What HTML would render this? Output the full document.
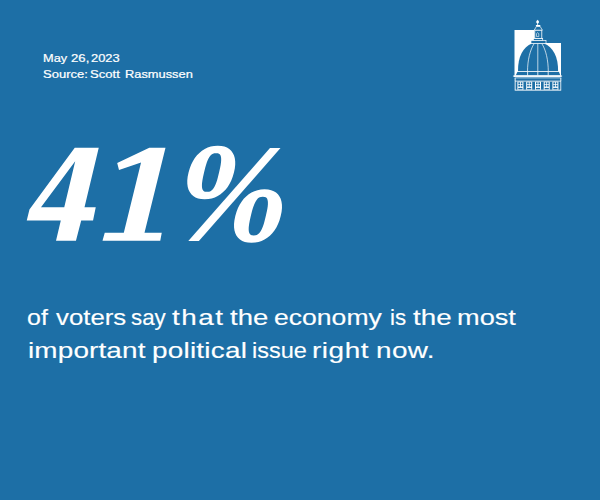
<!DOCTYPE html>
<html><head><meta charset="utf-8">
<style>
html,body{margin:0;padding:0;}
body{width:600px;height:500px;background:#1d6fa6;overflow:hidden;position:relative;font-family:"Liberation Sans",sans-serif;color:#fff;}
.l{position:absolute;white-space:nowrap;transform-origin:0 0;line-height:1;}
.m{font-size:11.3px;-webkit-text-stroke:0.22px #fff;}
.b{font-size:21.8px;-webkit-text-stroke:0.15px #fff;}
svg{position:absolute;left:0;top:0;}
</style></head><body>
<svg width="600" height="500" viewBox="0 0 600 500">
<path fill="#fff" fill-rule="evenodd" d="M74.75,147.8 L98.75,147.8 L84.5,207.3 L95.75,207.3 L93.05,220.5 L81.2,220.5 L75.95,240.75 L56,240.75 L60.8,220.5 L26.75,220.5 L29.45,209.55 Z M75.2,161.3 L64.25,207.3 L41,207.3 Z"/>
<path fill="#fff" d="M149.3,147.8 L165.5,147.8 L144.5,232.8 L161.75,232.8 L160.25,240.75 L102.5,240.75 L104.75,232.8 L123.8,232.8 L141.05,162.5 L119,170 L117.2,162.95 Z"/>
<path fill="#fff" d="M270,148 L280.5,148 L198.9,241 L188.3,241 Z"/>
<path fill="#fff" fill-rule="evenodd" d="M233.95,172.50 L232.71,176.87 L231.29,180.53 L229.62,183.87 L227.69,186.92 L225.52,189.68 L223.12,192.12 L220.53,194.23 L217.75,196.00 L214.82,197.39 L211.73,198.39 L208.47,199.00 L204.71,199.20 L201.04,199.00 L198.08,198.39 L195.49,197.39 L193.23,196.00 L191.32,194.23 L189.76,192.12 L188.56,189.68 L187.74,186.92 L187.31,183.87 L187.27,180.53 L187.65,176.87 L188.55,172.50 L189.79,168.13 L191.21,164.47 L192.88,161.13 L194.81,158.08 L196.98,155.32 L199.38,152.88 L201.97,150.77 L204.75,149.00 L207.68,147.61 L210.77,146.61 L214.03,146.00 L217.79,145.80 L221.46,146.00 L224.42,146.61 L227.01,147.61 L229.27,149.00 L231.18,150.77 L232.74,152.88 L233.94,155.32 L234.76,158.08 L235.19,161.13 L235.23,164.47 L234.85,168.13 Z M219.05,172.55 L217.89,177.29 L217.09,180.15 L216.31,182.50 L215.53,184.52 L214.72,186.26 L213.88,187.75 L213.01,189.00 L212.09,190.03 L211.12,190.82 L210.07,191.39 L208.88,191.74 L207.01,191.85 L205.20,191.74 L204.17,191.39 L203.39,190.82 L202.79,190.03 L202.36,189.00 L202.07,187.75 L201.94,186.26 L201.95,184.52 L202.11,182.50 L202.44,180.15 L202.98,177.29 L204.05,172.55 L205.21,167.81 L206.01,164.95 L206.79,162.60 L207.57,160.58 L208.38,158.84 L209.22,157.35 L210.09,156.10 L211.01,155.07 L211.98,154.28 L213.03,153.71 L214.22,153.36 L216.09,153.25 L217.90,153.36 L218.93,153.71 L219.71,154.28 L220.31,155.07 L220.74,156.10 L221.03,157.35 L221.16,158.84 L221.15,160.58 L220.99,162.60 L220.66,164.95 L220.12,167.81 Z"/>
<path fill="#fff" fill-rule="evenodd" d="M280.70,216.05 L279.46,220.42 L278.04,224.08 L276.37,227.42 L274.44,230.47 L272.27,233.23 L269.87,235.67 L267.28,237.78 L264.50,239.55 L261.57,240.94 L258.48,241.94 L255.22,242.55 L251.46,242.75 L247.79,242.55 L244.83,241.94 L242.24,240.94 L239.98,239.55 L238.07,237.78 L236.51,235.67 L235.31,233.23 L234.49,230.47 L234.06,227.42 L234.02,224.08 L234.40,220.42 L235.30,216.05 L236.54,211.68 L237.96,208.02 L239.63,204.68 L241.56,201.63 L243.73,198.87 L246.13,196.43 L248.72,194.32 L251.50,192.55 L254.43,191.16 L257.52,190.16 L260.78,189.55 L264.54,189.35 L268.21,189.55 L271.17,190.16 L273.76,191.16 L276.02,192.55 L277.93,194.32 L279.49,196.43 L280.69,198.87 L281.51,201.63 L281.94,204.68 L281.98,208.02 L281.60,211.68 Z M265.80,216.10 L264.64,220.84 L263.84,223.70 L263.06,226.05 L262.28,228.07 L261.47,229.81 L260.63,231.30 L259.76,232.55 L258.84,233.58 L257.87,234.37 L256.82,234.94 L255.63,235.29 L253.76,235.40 L251.95,235.29 L250.92,234.94 L250.14,234.37 L249.54,233.58 L249.11,232.55 L248.82,231.30 L248.69,229.81 L248.70,228.07 L248.86,226.05 L249.19,223.70 L249.73,220.84 L250.80,216.10 L251.96,211.36 L252.76,208.50 L253.54,206.15 L254.32,204.13 L255.13,202.39 L255.97,200.90 L256.84,199.65 L257.76,198.62 L258.73,197.83 L259.78,197.26 L260.97,196.91 L262.84,196.80 L264.65,196.91 L265.68,197.26 L266.46,197.83 L267.06,198.62 L267.49,199.65 L267.78,200.90 L267.91,202.39 L267.90,204.13 L267.74,206.15 L267.41,208.50 L266.87,211.36 Z"/>

<g>
<!-- white L block -->
<path d="M514.5,30.1 H534.6 V43 H561 V75.8 H514.5 Z" fill="#fff"/>
<!-- dome -->
<path d="M518,71.5 C517.8,56.5 523,46.8 532,43.4 H544 C553,46.8 558.3,56.5 558.1,71.5 Z" fill="#1d6fa6"/>
<!-- ribs -->
<path d="M534.3,43.4 C530,50 527.6,60 527.5,71.5 M541.7,43.4 C546,50 548.2,60 548.3,71.5 M537.8,43.4 V71.5" stroke="#fff" stroke-width="0.7" fill="none"/>
<!-- band under dome -->
<path d="M517.6,71.5 H558.8 L560.3,75.6 H515.7 Z" fill="#1d6fa6"/>
<path d="M517,71.5 H559.5" stroke="#fff" stroke-width="0.8"/>
<path d="M527.6,71.5 V75.5 M537.8,71.5 V75.5 M548.2,71.5 V75.5" stroke="#fff" stroke-width="0.8"/>
<!-- cornice -->
<path d="M512.7,76.1 L514.2,75.3 H561 L562.4,76.1 L561,76.9 H514.2 Z" fill="#fff"/>
<rect x="514.7" y="76.9" width="46.6" height="1.7" fill="#78abce"/>
<path d="M515.15,78 V81 M560.8,78 V81" stroke="#fff" stroke-width="0.9"/>
<!-- window row -->
<rect x="514.7" y="80.7" width="46.5" height="9.9" fill="#fff"/>
<rect x="515.6" y="81.5" width="44.8" height="8.2" fill="#1d6fa6"/>
<rect x="517.4" y="81.6" width="6" height="8.2" fill="#fff"/><rect x="518.4" y="82.3" width="1.6" height="1.8" fill="#1d6fa6"/><rect x="518.4" y="84.8" width="1.6" height="1.8" fill="#1d6fa6"/><rect x="520.8" y="82.3" width="1.6" height="1.8" fill="#1d6fa6"/><rect x="520.8" y="84.8" width="1.6" height="1.8" fill="#1d6fa6"/><rect x="518.3" y="87.9" width="4.2" height="1.4" fill="#1d6fa6"/><rect x="526.2" y="81.6" width="6" height="8.2" fill="#fff"/><rect x="527.2" y="82.3" width="1.6" height="1.8" fill="#1d6fa6"/><rect x="527.2" y="84.8" width="1.6" height="1.8" fill="#1d6fa6"/><rect x="529.6" y="82.3" width="1.6" height="1.8" fill="#1d6fa6"/><rect x="529.6" y="84.8" width="1.6" height="1.8" fill="#1d6fa6"/><rect x="527.1" y="87.9" width="4.2" height="1.4" fill="#1d6fa6"/><rect x="535.0" y="81.6" width="6" height="8.2" fill="#fff"/><rect x="536.0" y="82.3" width="1.6" height="1.8" fill="#1d6fa6"/><rect x="536.0" y="84.8" width="1.6" height="1.8" fill="#1d6fa6"/><rect x="538.4" y="82.3" width="1.6" height="1.8" fill="#1d6fa6"/><rect x="538.4" y="84.8" width="1.6" height="1.8" fill="#1d6fa6"/><rect x="535.9" y="87.9" width="4.2" height="1.4" fill="#1d6fa6"/><rect x="543.7" y="81.6" width="6" height="8.2" fill="#fff"/><rect x="544.7" y="82.3" width="1.6" height="1.8" fill="#1d6fa6"/><rect x="544.7" y="84.8" width="1.6" height="1.8" fill="#1d6fa6"/><rect x="547.1" y="82.3" width="1.6" height="1.8" fill="#1d6fa6"/><rect x="547.1" y="84.8" width="1.6" height="1.8" fill="#1d6fa6"/><rect x="544.6" y="87.9" width="4.2" height="1.4" fill="#1d6fa6"/><rect x="552.4" y="81.6" width="6" height="8.2" fill="#fff"/><rect x="553.4" y="82.3" width="1.6" height="1.8" fill="#1d6fa6"/><rect x="553.4" y="84.8" width="1.6" height="1.8" fill="#1d6fa6"/><rect x="555.8" y="82.3" width="1.6" height="1.8" fill="#1d6fa6"/><rect x="555.8" y="84.8" width="1.6" height="1.8" fill="#1d6fa6"/><rect x="553.3" y="87.9" width="4.2" height="1.4" fill="#1d6fa6"/>
<!-- lantern -->
<rect x="531" y="40.5" width="15" height="2.9" fill="#1d6fa6" stroke="#fff" stroke-width="0.7"/>
<rect x="533.4" y="38.4" width="9.3" height="2.1" fill="#1d6fa6" stroke="#fff" stroke-width="0.7"/>
<rect x="534.8" y="30.2" width="7" height="8.2" fill="#1d6fa6" stroke="#fff" stroke-width="0.8"/>
<path d="M536.5,36.6 V33.6 Q537.6,31.8 538.8,33.6 V36.6 Z" fill="none" stroke="#fff" stroke-width="0.6"/>
<path d="M534.2,30.2 L536.4,26.5 H540.2 L542.4,30.2 Z" fill="#1d6fa6" stroke="#fff" stroke-width="0.7"/>
<rect x="535.9" y="25" width="4.4" height="1.4" fill="#fff"/>
<path d="M537.6,25 V19.9" stroke="#fff" stroke-width="0.8"/>
<circle cx="537.6" cy="22" r="1.4" fill="#fff"/>
</g>

</svg>
<div class="l b" style="left:27.44px;top:307.35px;transform:scaleX(1.1462);letter-spacing:0.00px">of</div>
<div class="l b" style="left:55.75px;top:307.35px;transform:scaleX(1.1836);letter-spacing:0.00px">voters</div>
<div class="l b" style="left:131.32px;top:307.35px;transform:scaleX(1.0256);letter-spacing:0.00px">say</div>
<div class="l b" style="left:171.66px;top:307.35px;transform:scaleX(1.2800);letter-spacing:1.18px">that</div>
<div class="l b" style="left:230.36px;top:307.35px;transform:scaleX(1.2619);letter-spacing:0.00px">the</div>
<div class="l b" style="left:274.28px;top:307.35px;transform:scaleX(1.2191);letter-spacing:0.00px">economy</div>
<div class="l b" style="left:389.71px;top:307.35px;transform:scaleX(1.0256);letter-spacing:0.00px">is</div>
<div class="l b" style="left:412.96px;top:307.35px;transform:scaleX(1.2755);letter-spacing:0.00px">the</div>
<div class="l b" style="left:456.98px;top:307.35px;transform:scaleX(1.2466);letter-spacing:0.00px">most</div>
<div class="l b" style="left:28.07px;top:339.75px;transform:scaleX(1.2800);letter-spacing:0.11px">important</div>
<div class="l b" style="left:151.57px;top:339.75px;transform:scaleX(1.2800);letter-spacing:0.18px">political</div>
<div class="l b" style="left:252.26px;top:339.75px;transform:scaleX(1.0783);letter-spacing:0.00px">issue</div>
<div class="l b" style="left:311.55px;top:339.75px;transform:scaleX(1.2800);letter-spacing:0.44px">right</div>
<div class="l b" style="left:375.54px;top:339.75px;transform:scaleX(1.2800);letter-spacing:0.31px">now.</div>
<div class="l m" style="left:42.98px;top:53.03px;transform:scaleX(1.1307);letter-spacing:0.00px">May</div>
<div class="l m" style="left:70.71px;top:53.03px;transform:scaleX(1.1600);letter-spacing:0.06px">26,</div>
<div class="l m" style="left:91.27px;top:53.03px;transform:scaleX(1.1424);letter-spacing:0.00px">2023</div>
<div class="l m" style="left:43.19px;top:69.03px;transform:scaleX(1.1522);letter-spacing:0.00px">Source:</div>
<div class="l m" style="left:90.43px;top:69.03px;transform:scaleX(1.1595);letter-spacing:0.00px">Scott</div>
<div class="l m" style="left:124.73px;top:69.03px;transform:scaleX(1.1366);letter-spacing:0.00px">Rasmussen</div>
</body></html>
